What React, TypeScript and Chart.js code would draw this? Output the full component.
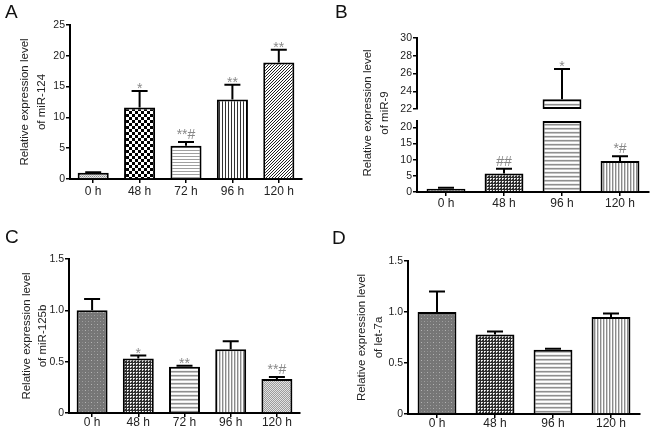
import React, { useEffect, useRef } from "react";
import { Chart, registerables } from "chart.js";

Chart.register(...registerables);

const FONT = "'Liberation Sans', Arial, Helvetica, sans-serif";

// ---------- Panel A ----------
const A_LABELS = ["0 h", "48 h", "72 h", "96 h", "120 h"];
const A_VALUES = [1.0, 11.6, 5.4, 12.9, 18.9];
const A_ERRORS = [0.1, 2.7, 0.6, 2.4, 2.1];
const A_MARKS = ["", "*", "**#", "**", "**"];
const A_TICKS = [0, 5, 10, 15, 20, 25];
const A_TITLE = ["Relative expression level", "of miR-124"];

// ---------- Panel B (broken axis) ----------
const B_LABELS = ["0 h", "48 h", "96 h", "120 h"];
const B_VALUES = [1.0, 5.7, 23.1, 9.6];
const B_ERRORS = [0.3, 1.5, 3.4, 1.5];
const B_MARKS = ["", "##", "*", "*#"];
const B_TICKS_LOW = [0, 5, 10, 15, 20];
const B_TICKS_HIGH = [22, 24, 26, 28, 30];
const B_LOW_RANGE = [0, 22];
const B_HIGH_RANGE = [22, 30];
const B_TITLE = ["Relative expression level", "of miR-9"];

// ---------- Panel C ----------
const C_LABELS = ["0 h", "48 h", "72 h", "96 h", "120 h"];
const C_VALUES = [1.0, 0.53, 0.45, 0.62, 0.33];
const C_ERRORS = [0.11, 0.03, 0.01, 0.08, 0.02];
const C_MARKS = ["", "*", "**", "", "**#"];
const C_TICKS = [0, 0.5, 1.0, 1.5];
const C_TITLE = ["Relative expression level", "of miR-125b"];

// ---------- Panel D ----------
const D_LABELS = ["0 h", "48 h", "96 h", "120 h"];
const D_VALUES = [1.0, 0.78, 0.63, 0.95];
const D_ERRORS = [0.2, 0.03, 0.01, 0.035];
const D_MARKS = ["", "", "", ""];
const D_TICKS = [0, 0.5, 1.0, 1.5];
const D_TITLE = ["Relative expression level", "of let-7a"];

// ---------- styles (fill textures) ----------
const A_FILLS = ["fineGray", "checker", "hLight", "vDark", "diag"];
const B_FILLS = ["darkDots", "fineChecker", "hGray", "vGray"];
const C_FILLS = ["darkDots", "fineChecker", "hGray", "vGray", "fineLight"];
const D_FILLS = ["darkDots", "fineChecker", "hGray", "vGray"];

function makePattern(kind: string): CanvasPattern | string {
  const c = document.createElement("canvas");
  const g = c.getContext("2d");
  if (!g) return "#999";
  const fill = (w: number, h: number, col: string) => {
    c.width = w;
    c.height = h;
    g.fillStyle = col;
    g.fillRect(0, 0, w, h);
  };
  const px = (x: number, y: number, col: string, w = 1, h = 1) => {
    g.fillStyle = col;
    g.fillRect(x, y, w, h);
  };
  switch (kind) {
    case "fineGray":
      fill(2, 2, "#e4e4e4");
      px(0, 0, "#8a8a8a");
      px(1, 1, "#b8b8b8");
      break;
    case "checker":
      fill(6, 6, "#ffffff");
      px(0, 0, "#000000", 3, 3);
      px(3, 3, "#000000", 3, 3);
      break;
    case "hLight":
      fill(1, 3, "#ffffff");
      px(0, 0, "#a0a0a0");
      break;
    case "vDark":
      fill(3, 1, "#ffffff");
      px(0, 0, "#333333");
      break;
    case "diag":
      fill(3, 3, "#ffffff");
      px(2, 0, "#222222");
      px(1, 1, "#222222");
      px(0, 2, "#222222");
      break;
    case "darkDots":
      fill(6, 6, "#767676");
      px(1, 1, "#b4b4b4");
      px(4, 4, "#a0a0a0");
      px(1, 4, "#8c8c8c");
      px(4, 1, "#8c8c8c");
      break;
    case "fineChecker":
      fill(3, 3, "#2e2e2e");
      px(1, 1, "#ffffff");
      px(2, 1, "#cfcfcf");
      px(1, 2, "#cfcfcf");
      break;
    case "hGray":
      fill(1, 4, "#ffffff");
      px(0, 0, "#8f8f8f");
      px(0, 1, "#c4c4c4");
      px(0, 3, "#f0f0f0");
      break;
    case "vGray":
      fill(3, 1, "#ffffff");
      px(0, 0, "#8a8a8a");
      px(1, 0, "#d0d0d0");
      break;
    case "fineLight":
      fill(2, 2, "#e2e2e2");
      px(0, 0, "#9c9c9c");
      px(1, 1, "#9c9c9c");
      break;
    default:
      fill(1, 1, "#999999");
  }
  return g.createPattern(c, "repeat") || "#999";
}

type Geo = {
  left: number;
  top: number;
  width: number;
  height: number;
  yWidth: number;
  xHeight: number;
  pad: { left: number; right: number; top: number; bottom: number };
  xTickPad: number;
  titlePad: number;
};

const GEO_A: Geo = { left: 0, top: 0, width: 330, height: 215, yWidth: 70, xHeight: 36, pad: { left: 0, right: 28, top: 25, bottom: 0 }, xTickPad: 1, titlePad: 16.6 };
const GEO_B_LOW: Geo = { left: 330, top: 0, width: 323, height: 215, yWidth: 87, xHeight: 23, pad: { left: 0, right: 4, top: 121, bottom: 0 }, xTickPad: 0, titlePad: 0 };
const GEO_B_HIGH: Geo = { left: 330, top: 0, width: 323, height: 215, yWidth: 87, xHeight: 0, pad: { left: 0, right: 4, top: 38, bottom: 106 }, xTickPad: 0, titlePad: 0 };
const GEO_C: Geo = { left: 0, top: 215, width: 330, height: 215, yWidth: 69, xHeight: 17, pad: { left: 0, right: 30, top: 44, bottom: 0 }, xTickPad: -2, titlePad: 18 };
const GEO_D: Geo = { left: 330, top: 215, width: 323, height: 215, yWidth: 78, xHeight: 16, pad: { left: 0, right: 13, top: 46, bottom: 0 }, xTickPad: -2, titlePad: 23.6 };

const errorPlugin = (values: number[], errors: number[], marks: string[], lo: number, hi: number) => ({
  id: "errorBars",
  afterDatasetsDraw(chart: any) {
    const meta = chart.getDatasetMeta(0);
    const ys = chart.scales.y;
    const ctx = chart.ctx as CanvasRenderingContext2D;
    ctx.save();
    meta.data.forEach((el: any, i: number) => {
      const v = values[i];
      if (v == null || v < lo || v > hi) return;
      const x = el.x;
      const y0 = ys.getPixelForValue(v);
      const y1 = ys.getPixelForValue(v + errors[i]);
      ctx.strokeStyle = "#000";
      ctx.lineWidth = 2;
      ctx.beginPath();
      ctx.moveTo(x, y0);
      ctx.lineTo(x, y1);
      ctx.moveTo(x - 8, y1);
      ctx.lineTo(x + 8, y1);
      ctx.stroke();
      const m = marks[i];
      if (m) {
        ctx.fillStyle = "#888888";
        ctx.font = `14px ${FONT}`;
        ctx.textAlign = "center";
        ctx.textBaseline = "alphabetic";
        ctx.fillText(m, x, y1 + (m.includes("#") ? -3 : 2));
      }
    });
    ctx.restore();
  },
});

const sideTitlePlugin = (lines: string[], x0: number, lh: number, yc: number) => ({
  id: "sideTitle",
  afterDraw(chart: any) {
    const ctx = chart.ctx as CanvasRenderingContext2D;
    ctx.save();
    ctx.fillStyle = "#222";
    ctx.font = `11.5px ${FONT}`;
    ctx.textAlign = "center";
    ctx.textBaseline = "middle";
    lines.forEach((t, i) => {
      ctx.save();
      ctx.translate(x0 + i * lh, yc);
      ctx.rotate(-Math.PI / 2);
      ctx.fillText(t, 0, 0);
      ctx.restore();
    });
    ctx.restore();
  },
});

type Opts = {
  geo: Geo;
  labels: string[];
  data: any[];
  fills: string[];
  values: number[];
  errors: number[];
  marks: string[];
  ticks: number[];
  min: number;
  max: number;
  fmt: (v: number) => string;
  title: string[] | null;
  showX: boolean;
  floating: boolean;
  plugins: any[];
};

function makeChart(canvas: HTMLCanvasElement, o: Opts) {
  const gridCommon = {
    display: true,
    drawOnChartArea: false,
    drawTicks: true,
    tickLength: 4,
    offset: false,
    color: "#000",
    lineWidth: 1.5,
  };
  const border = { display: true, color: "#000", width: 2 };
  return new Chart(canvas, {
    type: "bar",
    data: {
      labels: o.labels,
      datasets: [
        {
          data: o.data,
          backgroundColor: o.fills.map(makePattern),
          borderColor: "#000",
          borderWidth: 2,
          borderSkipped: o.floating ? false : "start",
          barPercentage: 0.67,
          categoryPercentage: 1,
        } as any,
      ],
    },
    options: {
      responsive: false,
      animation: false,
      devicePixelRatio: 1,
      layout: { padding: o.geo.pad },
      plugins: {
        legend: { display: false },
        tooltip: { enabled: false },
        title: { display: false },
      },
      scales: {
        x: {
          type: "category",
          offset: true,
          display: o.showX,
          grid: gridCommon,
          border,
          ticks: {
            color: "#222",
            font: { size: 12, family: FONT },
            padding: o.geo.xTickPad,
            maxRotation: 0,
            autoSkip: false,
          },
          afterFit: (s: any) => {
            s.height = o.geo.xHeight;
          },
        },
        y: {
          type: "linear",
          min: o.min,
          max: o.max,
          grid: gridCommon,
          border,
          ticks: {
            color: "#222",
            font: { size: 10.5, family: FONT },
            padding: 1,
            callback: (v: any) => o.fmt(Number(v)),
          },
          afterBuildTicks: (s: any) => {
            s.ticks = o.ticks.map((value) => ({ value }));
          },
          afterFit: (s: any) => {
            s.width = o.geo.yWidth;
          },
          title: o.title
            ? {
                display: true,
                text: o.title,
                color: "#222",
                font: { size: 11.5, family: FONT, lineHeight: 1.45 },
                padding: { top: o.geo.titlePad, bottom: 0 },
              }
            : { display: false },
        },
      } as any,
    },
    plugins: o.plugins,
  } as any);
}

const intFmt = (v: number) => String(v);
const decFmt = (v: number) => (v === 0 ? "0" : v.toFixed(1));

export default function App() {
  const aRef = useRef<HTMLCanvasElement>(null);
  const bLowRef = useRef<HTMLCanvasElement>(null);
  const bHighRef = useRef<HTMLCanvasElement>(null);
  const cRef = useRef<HTMLCanvasElement>(null);
  const dRef = useRef<HTMLCanvasElement>(null);

  useEffect(() => {
    Chart.defaults.font.family = FONT;
    const charts: Chart[] = [];
    if (aRef.current)
      charts.push(
        makeChart(aRef.current, {
          geo: GEO_A,
          labels: A_LABELS,
          data: A_VALUES,
          fills: A_FILLS,
          values: A_VALUES,
          errors: A_ERRORS,
          marks: A_MARKS,
          ticks: A_TICKS,
          min: A_TICKS[0],
          max: A_TICKS[A_TICKS.length - 1],
          fmt: intFmt,
          title: A_TITLE,
          showX: true,
          floating: false,
          plugins: [errorPlugin(A_VALUES, A_ERRORS, A_MARKS, 0, A_TICKS[A_TICKS.length - 1])],
        })
      );
    if (bLowRef.current)
      charts.push(
        makeChart(bLowRef.current, {
          geo: GEO_B_LOW,
          labels: B_LABELS,
          data: B_VALUES.map((v) => Math.min(v, B_LOW_RANGE[1])),
          fills: B_FILLS,
          values: B_VALUES,
          errors: B_ERRORS,
          marks: B_MARKS,
          ticks: B_TICKS_LOW,
          min: B_LOW_RANGE[0],
          max: B_LOW_RANGE[1],
          fmt: intFmt,
          title: null,
          showX: true,
          floating: false,
          plugins: [
            errorPlugin(B_VALUES, B_ERRORS, B_MARKS, B_LOW_RANGE[0], B_LOW_RANGE[1]),
            sideTitlePlugin(B_TITLE, 38, 17, (GEO_B_HIGH.pad.top + (GEO_B_LOW.height - GEO_B_LOW.xHeight)) / 2 - 2),
          ],
        })
      );
    if (bHighRef.current)
      charts.push(
        makeChart(bHighRef.current, {
          geo: GEO_B_HIGH,
          labels: B_LABELS,
          data: B_VALUES.map((v) => (v > B_HIGH_RANGE[0] ? [B_HIGH_RANGE[0], v] : null)),
          fills: B_FILLS,
          values: B_VALUES,
          errors: B_ERRORS,
          marks: B_MARKS,
          ticks: B_TICKS_HIGH,
          min: B_HIGH_RANGE[0],
          max: B_HIGH_RANGE[1],
          fmt: intFmt,
          title: null,
          showX: false,
          floating: true,
          plugins: [errorPlugin(B_VALUES, B_ERRORS, B_MARKS, B_HIGH_RANGE[0] + 0.001, B_HIGH_RANGE[1])],
        })
      );
    if (cRef.current)
      charts.push(
        makeChart(cRef.current, {
          geo: GEO_C,
          labels: C_LABELS,
          data: C_VALUES,
          fills: C_FILLS,
          values: C_VALUES,
          errors: C_ERRORS,
          marks: C_MARKS,
          ticks: C_TICKS,
          min: C_TICKS[0],
          max: C_TICKS[C_TICKS.length - 1],
          fmt: decFmt,
          title: C_TITLE,
          showX: true,
          floating: false,
          plugins: [errorPlugin(C_VALUES, C_ERRORS, C_MARKS, 0, C_TICKS[C_TICKS.length - 1])],
        })
      );
    if (dRef.current)
      charts.push(
        makeChart(dRef.current, {
          geo: GEO_D,
          labels: D_LABELS,
          data: D_VALUES,
          fills: D_FILLS,
          values: D_VALUES,
          errors: D_ERRORS,
          marks: D_MARKS,
          ticks: D_TICKS,
          min: D_TICKS[0],
          max: D_TICKS[D_TICKS.length - 1],
          fmt: decFmt,
          title: D_TITLE,
          showX: true,
          floating: false,
          plugins: [errorPlugin(D_VALUES, D_ERRORS, D_MARKS, 0, D_TICKS[D_TICKS.length - 1])],
        })
      );
    return () => charts.forEach((c) => c.destroy());
  }, []);

  const cv = (g: Geo): React.CSSProperties => ({
    position: "absolute",
    left: g.left,
    top: g.top,
    width: g.width,
    height: g.height,
    display: "block",
  });
  const letter = (left: number, top: number): React.CSSProperties => ({
    position: "absolute",
    left,
    top,
    fontFamily: FONT,
    fontSize: 19,
    lineHeight: "19px",
    color: "#111",
  });

  return (
    <div
      style={{
        position: "fixed",
        left: 0,
        top: 0,
        width: 653,
        height: 430,
        background: "#fff",
        overflow: "hidden",
      }}
    >
      <canvas ref={aRef} width={GEO_A.width} height={GEO_A.height} style={cv(GEO_A)} />
      <canvas ref={bLowRef} width={GEO_B_LOW.width} height={GEO_B_LOW.height} style={cv(GEO_B_LOW)} />
      <canvas ref={bHighRef} width={GEO_B_HIGH.width} height={GEO_B_HIGH.height} style={cv(GEO_B_HIGH)} />
      <canvas ref={cRef} width={GEO_C.width} height={GEO_C.height} style={cv(GEO_C)} />
      <canvas ref={dRef} width={GEO_D.width} height={GEO_D.height} style={cv(GEO_D)} />
      <div style={letter(5, 2)}>A</div>
      <div style={letter(335, 2)}>B</div>
      <div style={letter(5, 227)}>C</div>
      <div style={letter(332, 228)}>D</div>
    </div>
  );
}
